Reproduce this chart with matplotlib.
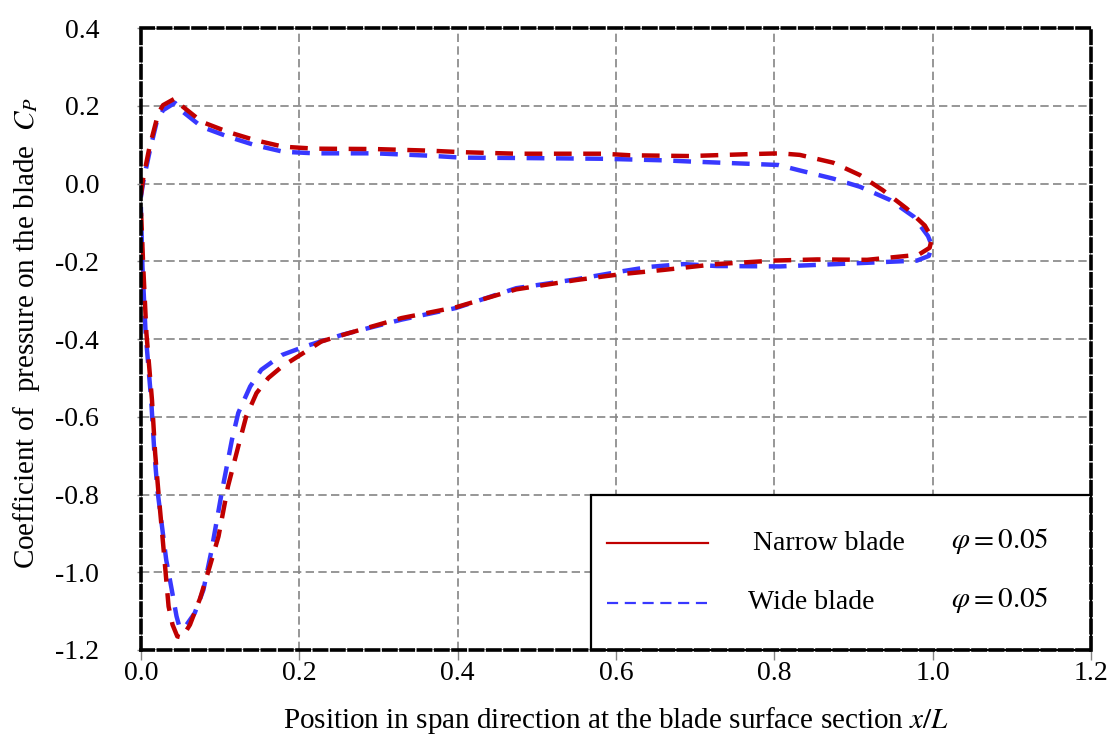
import matplotlib
matplotlib.use("Agg")
import matplotlib.pyplot as plt
from matplotlib.patches import Rectangle
from matplotlib.ticker import FormatStrFormatter

# ── Data: Cp around the blade section, one closed loop per blade ─────────
narrow_x = [0.000, 0.003, 0.011, 0.022, 0.028, 0.043, 0.053, 0.077, 0.110,
            0.144, 0.180, 0.220, 0.296, 0.363, 0.405, 0.475, 0.584, 0.618,
            0.693, 0.769, 0.807, 0.832, 0.874, 0.908, 0.937, 0.967, 0.990,
            0.999, 0.996, 0.982, 0.917, 0.854, 0.799, 0.727, 0.660, 0.606,
            0.550, 0.474, 0.398, 0.329, 0.262, 0.228, 0.205, 0.178, 0.161,
            0.146, 0.133, 0.123, 0.110, 0.098, 0.087, 0.075, 0.062, 0.052,
            0.046, 0.040, 0.035, 0.028, 0.022, 0.018, 0.014, 0.007, 0.003,
            0.000]
narrow_cp = [-0.030, 0.014, 0.095, 0.181, 0.202, 0.219, 0.198, 0.159, 0.133,
             0.112, 0.095, 0.090, 0.089, 0.085, 0.081, 0.077, 0.077, 0.073,
             0.071, 0.076, 0.078, 0.074, 0.054, 0.022, -0.017, -0.064, -0.108,
             -0.140, -0.165, -0.183, -0.196, -0.195, -0.198, -0.207, -0.222,
             -0.233, -0.248, -0.272, -0.318, -0.346, -0.385, -0.406, -0.436,
             -0.471, -0.500, -0.539, -0.599, -0.676, -0.779, -0.908, -0.985,
             -1.066, -1.135, -1.168, -1.165, -1.135, -1.088, -0.925, -0.790,
             -0.693, -0.556, -0.385, -0.214, -0.059]

wide_x = [0.000, 0.003, 0.011, 0.020, 0.028, 0.043, 0.053, 0.077, 0.110,
          0.144, 0.180, 0.220, 0.296, 0.363, 0.405, 0.475, 0.584, 0.660,
          0.693, 0.769, 0.805, 0.832, 0.874, 0.908, 0.946, 0.976, 0.994,
          0.999, 0.995, 0.980, 0.891, 0.807, 0.727, 0.685, 0.643, 0.606,
          0.550, 0.474, 0.398, 0.329, 0.254, 0.207, 0.178, 0.152, 0.138,
          0.123, 0.115, 0.102, 0.089, 0.079, 0.068, 0.056, 0.049, 0.045,
          0.039, 0.032, 0.021, 0.017, 0.013, 0.006, 0.002, 0.000]
wide_cp = [-0.035, 0.005, 0.082, 0.159, 0.189, 0.208, 0.185, 0.146, 0.121,
           0.099, 0.082, 0.078, 0.078, 0.072, 0.067, 0.066, 0.064, 0.060,
           0.057, 0.051, 0.048, 0.034, 0.013, -0.008, -0.042, -0.085, -0.135,
           -0.160, -0.186, -0.198, -0.206, -0.213, -0.212, -0.207, -0.214,
           -0.226, -0.246, -0.269, -0.320, -0.350, -0.389, -0.419, -0.441,
           -0.479, -0.522, -0.590, -0.659, -0.796, -0.946, -1.045, -1.105,
           -1.140, -1.143, -1.113, -1.045, -0.968, -0.790, -0.690, -0.556,
           -0.385, -0.214, -0.060]

x_ticks = [0.0, 0.2, 0.4, 0.6, 0.8, 1.0, 1.2]
y_ticks = [-1.2, -1.0, -0.8, -0.6, -0.4, -0.2, 0.0, 0.2, 0.4]

RED = "#c00000"
BLUE = "#3838ff"
GRID = "#858585"

plt.rcParams.update({
    "font.family": "Liberation Serif",
    "mathtext.fontset": "stix",
    "axes.unicode_minus": False,
    "font.size": 21,
})

fig = plt.figure(figsize=(11.18, 7.42), dpi=100)
ax = fig.add_axes([0.126, 0.124, 0.850, 0.838])

ax.plot(narrow_x, narrow_cp, color=RED, lw=3.2, ls=(0, (4, 2.6)), zorder=3)
ax.plot(wide_x, wide_cp, color=BLUE, lw=3.2, ls=(0, (4, 2.6)), zorder=2.8)

ax.set_xlim(0, 1.2)
ax.set_ylim(-1.2, 0.4)
ax.set_xticks(x_ticks)
ax.set_yticks(y_ticks)
ax.xaxis.set_major_formatter(FormatStrFormatter("%.1f"))
ax.yaxis.set_major_formatter(FormatStrFormatter("%.1f"))
ax.grid(True, color=GRID, lw=1.2, ls=(0, (5, 2.6)), zorder=1)
ax.tick_params(axis="y", color=GRID, length=3, width=1, pad=27, labelsize=20)
ax.tick_params(axis="x", color=GRID, length=7, width=1, pad=1, labelsize=20)

# dashed frame on all four sides
for sp in ax.spines.values():
    sp.set_linestyle((0, (3.4, 1.4)))
    sp.set_linewidth(2.6)
    sp.set_zorder(10)

ax.set_xlabel("Position in span direction at the blade surface section $x/L$",
              fontsize=21)
ax.xaxis.set_label_coords(0.5, -0.088)
ax.set_ylabel("Coefficient of  pressure on the blade  $C_P$", fontsize=21)
ax.yaxis.set_label_coords(-0.104, 0.51)

# ── legend box ──────────────────────────────────────────────────────────
ax.add_patch(Rectangle((0.474, 0.0), 0.526, 0.249, transform=ax.transAxes,
                       facecolor="white", edgecolor="black", lw=1.6,
                       zorder=5, clip_on=False))
ax.plot([0.491, 0.597], [0.172, 0.172], transform=ax.transAxes,
        color=RED, lw=1.6, zorder=6)
ax.plot([0.491, 0.597], [0.076, 0.076], transform=ax.transAxes,
        color=BLUE, lw=1.6, ls=(0, (5, 3)), zorder=6)
ax.text(0.644, 0.172, "Narrow blade", transform=ax.transAxes,
        ha="left", va="center", fontsize=20, zorder=6)
ax.text(0.639, 0.076, "Wide blade", transform=ax.transAxes,
        ha="left", va="center", fontsize=20, zorder=6)
ax.text(0.852, 0.176, r"$\varphi = 0.05$", transform=ax.transAxes,
        ha="left", va="center", fontsize=21, zorder=6)
ax.text(0.852, 0.080, r"$\varphi = 0.05$", transform=ax.transAxes,
        ha="left", va="center", fontsize=21, zorder=6)

fig.savefig("out.png", dpi=100, facecolor="white")
